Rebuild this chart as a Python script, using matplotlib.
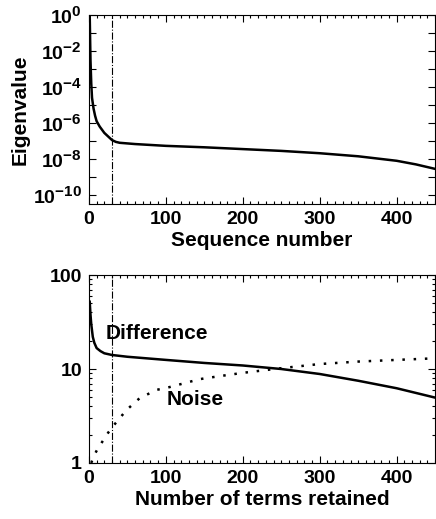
import numpy as np
import matplotlib
matplotlib.use('Agg')
import matplotlib.pyplot as plt
from matplotlib.ticker import FixedLocator, FuncFormatter, MultipleLocator, NullFormatter
import matplotlib._mathtext as mt

# bigger superscripts, closer to the original plot
mt.SHRINK_FACTOR = 0.78

plt.rcParams['font.family'] = 'Liberation Sans'
plt.rcParams['font.weight'] = 'bold'
plt.rcParams['mathtext.fontset'] = 'custom'
plt.rcParams['mathtext.rm'] = 'Liberation Sans:bold'
plt.rcParams['mathtext.bf'] = 'Liberation Sans:bold'
plt.rcParams['mathtext.default'] = 'rm'

# eigenvalue spectrum (log10 of eigenvalue vs sequence number)
seq = [1, 2, 3, 4, 6, 8, 10, 14, 20, 25, 30, 35, 40, 60, 100, 150, 200, 250, 300, 350, 400, 425, 450]
log_eig = [0, -2.5, -3.8, -4.6, -5.2, -5.6, -5.9, -6.2, -6.55, -6.75, -6.95, -7.05, -7.1,
           -7.17, -7.27, -7.35, -7.45, -7.55, -7.68, -7.85, -8.1, -8.3, -8.55]

# difference and noise vs number of terms retained
terms_d = [1, 2, 3, 5, 7, 10, 15, 20, 30, 50, 100, 150, 200, 250, 300, 350, 400, 450]
diff = [52, 38, 30, 22, 19, 16.7, 15.5, 14.7, 14.1, 13.5, 12.5, 11.6, 10.9, 10.0, 8.85, 7.5, 6.24, 4.96]
terms_n = [3, 6, 12, 19, 25, 32, 40, 49, 66, 88, 101, 144, 170, 200, 250, 300, 350, 400, 450]
noise = [1.0, 1.17, 1.45, 1.76, 2.1, 2.5, 3.0, 3.67, 4.9, 6.0, 6.3, 7.8, 8.4, 9.1, 10.2, 11.3, 12.0, 12.5, 13.0]

cut = 30

fig = plt.figure(figsize=(4.36, 5.19), dpi=100)
ax1 = fig.add_axes([0.204, 0.607, 0.794, 0.364])
ax2 = fig.add_axes([0.204, 0.108, 0.794, 0.362])

fs = 15
tfs = 14

ax1.plot(seq, 10.0 ** np.array(log_eig), color='black', lw=1.8)
ax1.axvline(cut, color='black', lw=0.8, ls='-.')
ax1.set_yscale('log')
ax1.set_ylim(10 ** -10.5, 1)
ax1.set_xlim(0, 450)
ax1.yaxis.set_major_locator(FixedLocator([10.0 ** k for k in range(-10, 1)]))
ax1.yaxis.set_minor_locator(FixedLocator([]))
ax1.yaxis.set_major_formatter(FuncFormatter(
    lambda v, p: r'$10^{%d}$' % round(np.log10(v)) if round(np.log10(v)) % 2 == 0 else ''))
ax1.set_ylabel('Eigenvalue', fontsize=fs, fontweight='bold', labelpad=2)
ax1.set_xlabel('Sequence number', fontsize=fs, fontweight='bold', labelpad=2)

ax2.plot(terms_d, diff, color='black', lw=1.8)
ax2.plot(terms_n, noise, color='black', lw=1.8, ls=(0, (1, 3.5)))
ax2.axvline(cut, color='black', lw=0.8, ls='-.')
ax2.set_yscale('log')
ax2.set_ylim(1, 100)
ax2.set_xlim(0, 450)
ax2.yaxis.set_major_formatter(FuncFormatter(lambda v, p: '%d' % v))
ax2.yaxis.set_minor_formatter(NullFormatter())
ax2.text(22, 24, 'Difference', fontsize=fs, fontweight='bold', va='center', ha='left')
ax2.text(101, 4.7, 'Noise', fontsize=fs, fontweight='bold', va='center', ha='left')
ax2.set_xlabel('Number of terms retained', fontsize=fs, fontweight='bold', labelpad=2)

for ax in (ax1, ax2):
    ax.xaxis.set_major_locator(MultipleLocator(100))
    ax.xaxis.set_minor_locator(MultipleLocator(10))
    ax.tick_params(which='both', direction='in', top=True, right=True, labelsize=tfs, width=0.8)
    ax.tick_params(which='major', length=5, pad=5)
    ax.tick_params(which='minor', length=2.5)
    for s in ax.spines.values():
        s.set_linewidth(0.8)
    for lab in ax.get_xticklabels() + ax.get_yticklabels():
        lab.set_fontweight('bold')

fig.savefig('out.png', dpi=100)
